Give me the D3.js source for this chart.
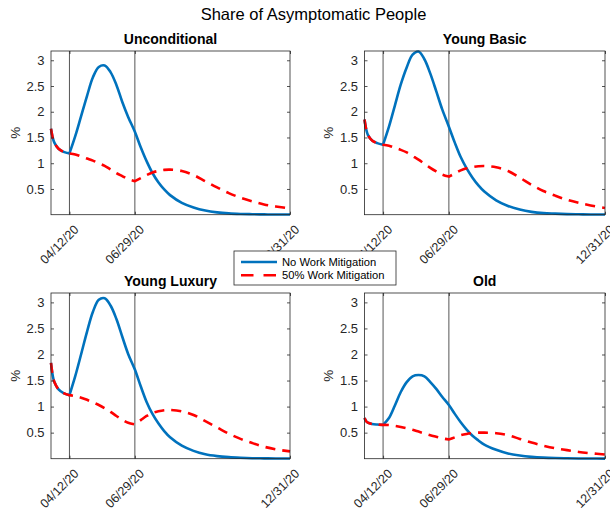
<!DOCTYPE html>
<html>
<head>
<meta charset="utf-8">
<script src="https://cdn.jsdelivr.net/npm/d3@7"></script>
<style>
  body { margin: 0; background: #fff; }
  svg { display: block; font-family: "Liberation Sans", Arial, Helvetica, sans-serif; }
</style>
</head>
<body>
<svg id="fig" width="610" height="512"></svg>
<script>
// Sample dates of the simulated paths (mm/dd/yy)
const sampleDates = ["03/21/20","03/23/20","03/25/20","03/30/20","04/05/20","04/12/20","04/19/20","04/26/20",
  "05/03/20","05/10/20","05/17/20","05/24/20","05/31/20","06/07/20","06/14/20","06/21/20","06/29/20",
  "07/06/20","07/13/20","07/20/20","07/27/20","08/03/20","08/10/20","08/24/20","09/07/20","09/21/20",
  "10/05/20","10/19/20","11/02/20","11/16/20","11/30/20","12/14/20","12/31/20"];

const panelTitles = ["Unconditional", "Young Basic", "Young Luxury", "Old"];
const seriesNames = ["No Work Mitigation", "50% Work Mitigation"];

// Share of asymptomatic people (%) - no work mitigation
const uncondNoMit = [1.67,1.50,1.40,1.28,1.22,1.19,1.53,1.92,2.31,2.67,2.87,2.90,2.77,2.52,2.19,1.90,1.61,
  1.31,1.04,0.81,0.63,0.49,0.38,0.23,0.14,0.08,0.045,0.025,0.015,0.01,0.006,0.004,0.003];
const youngBasicNoMit = [1.85,1.66,1.55,1.44,1.39,1.36,1.71,2.12,2.53,2.86,3.11,3.17,3.02,2.74,2.40,2.05,1.71,
  1.40,1.12,0.90,0.72,0.57,0.45,0.28,0.17,0.10,0.055,0.03,0.02,0.012,0.008,0.005,0.003];
const youngLuxuryNoMit = [1.84,1.60,1.47,1.33,1.26,1.22,1.59,2.01,2.44,2.82,3.05,3.08,2.94,2.68,2.34,2.01,1.71,
  1.39,1.09,0.86,0.68,0.53,0.41,0.25,0.15,0.085,0.05,0.03,0.018,0.01,0.007,0.004,0.003];
const oldNoMit = [0.78,0.72,0.69,0.665,0.655,0.65,0.78,1.02,1.28,1.47,1.58,1.605,1.58,1.47,1.34,1.19,1.03,
  0.86,0.70,0.56,0.44,0.35,0.27,0.17,0.10,0.06,0.035,0.02,0.012,0.008,0.005,0.003,0.002];

// Share of asymptomatic people (%) - 50% work mitigation
const uncondHalf = [1.67,1.50,1.40,1.28,1.22,1.19,1.17,1.13,1.09,1.05,1.00,0.95,0.88,0.81,0.75,0.69,0.65,
  0.71,0.77,0.82,0.85,0.87,0.875,0.85,0.77,0.65,0.53,0.42,0.33,0.26,0.20,0.16,0.12];
const youngBasicHalf = [1.85,1.66,1.55,1.44,1.39,1.36,1.34,1.30,1.26,1.21,1.14,1.07,0.99,0.91,0.84,0.78,0.74,
  0.80,0.86,0.90,0.925,0.94,0.945,0.92,0.85,0.72,0.58,0.46,0.37,0.29,0.23,0.18,0.13];
const youngLuxuryHalf = [1.84,1.60,1.47,1.33,1.26,1.22,1.20,1.17,1.13,1.08,1.03,0.97,0.90,0.82,0.75,0.69,0.66,
  0.74,0.82,0.88,0.91,0.93,0.935,0.91,0.84,0.72,0.60,0.48,0.38,0.30,0.23,0.18,0.14];
const oldHalf = [0.78,0.72,0.69,0.665,0.655,0.65,0.645,0.63,0.61,0.585,0.555,0.52,0.485,0.45,0.42,0.39,0.37,
  0.41,0.45,0.475,0.49,0.50,0.50,0.49,0.45,0.38,0.31,0.25,0.20,0.165,0.13,0.105,0.08];

// Axis ticks and policy dates
const xTickLabels = ["04/12/20", "06/29/20", "12/31/20"];
const policyDates = ["04/12/20", "06/29/20"];
const yTicks = [0.5, 1, 1.5, 2, 2.5, 3];
const yMax = 3.18;

const parse = d3.timeParse("%m/%d/%y");
const dates = sampleDates.map(parse);
const policy = policyDates.map(parse);

const panels = [
  { title: panelTitles[0], noMit: uncondNoMit, half: uncondHalf },
  { title: panelTitles[1], noMit: youngBasicNoMit, half: youngBasicHalf },
  { title: panelTitles[2], noMit: youngLuxuryNoMit, half: youngLuxuryHalf },
  { title: panelTitles[3], noMit: oldNoMit, half: oldHalf }
];

// Plot-area boxes for the 2x2 grid
const boxes = [
  { x0: 51, x1: 290, y0: 51, y1: 214.7 },
  { x0: 364.5, x1: 605, y0: 51, y1: 214.7 },
  { x0: 51, x1: 290, y0: 293, y1: 458.7 },
  { x0: 364.5, x1: 605, y0: 293, y1: 458.7 }
];

const blue = "#0072BD", red = "#FF0000", axisCol = "#262626";
const svg = d3.select("#fig");

// One continuous path through the samples, with corners allowed at the break dates
function joinedPath(values, x, y, breakDates) {
  const pts = dates.map((d, i) => [d, values[i]]);
  const cuts = [0];
  breakDates.forEach(b => {
    const i = dates.findIndex(d => +d === +b);
    if (i > 0) cuts.push(i);
  });
  cuts.push(pts.length - 1);
  const line = d3.line().x(p => x(p[0])).y(p => y(p[1])).curve(d3.curveCatmullRom.alpha(0.5));
  let s = "";
  for (let k = 0; k < cuts.length - 1; k++) {
    let seg = line(pts.slice(cuts[k], cuts[k + 1] + 1));
    if (k > 0) seg = seg.replace(/^M[^CL]*/, "");
    s += seg;
  }
  return s;
}

panels.forEach((p, idx) => {
  const b = boxes[idx];
  const x = d3.scaleTime().domain([dates[0], dates[dates.length - 1]]).range([b.x0, b.x1]);
  const y = d3.scaleLinear().domain([0, yMax]).range([b.y1, b.y0]);
  const g = svg.append("g");

  // Policy start/end markers
  g.selectAll("line.policy").data(policy).join("line")
    .attr("class", "policy")
    .attr("x1", d => x(d)).attr("x2", d => x(d))
    .attr("y1", b.y0).attr("y2", b.y1)
    .attr("stroke", "#555").attr("stroke-width", 1);

  // Curves
  g.append("path")
    .attr("d", joinedPath(p.noMit, x, y, [policy[0]]))
    .attr("fill", "none").attr("stroke", blue).attr("stroke-width", 2.6)
    .attr("stroke-linejoin", "round");
  g.append("path")
    .attr("d", joinedPath(p.half, x, y, policy))
    .attr("fill", "none").attr("stroke", red).attr("stroke-width", 2.6)
    .attr("stroke-dasharray", "10,7");

  // Frame
  g.append("rect")
    .attr("x", b.x0).attr("y", b.y0)
    .attr("width", b.x1 - b.x0).attr("height", b.y1 - b.y0)
    .attr("fill", "none").attr("stroke", axisCol).attr("stroke-width", 0.8);

  // Y axes (left labelled, right ticks only)
  const yl = g.append("g").attr("transform", `translate(${b.x0},0)`)
    .call(d3.axisLeft(y).tickValues(yTicks).tickSize(-3).tickPadding(6.5).tickFormat(d3.format("~g")));
  const yr = g.append("g").attr("transform", `translate(${b.x1},0)`)
    .call(d3.axisRight(y).tickValues(yTicks).tickSize(-3).tickFormat(""));

  // X axes (bottom labelled, top ticks only)
  const xTicks = xTickLabels.map(parse);
  const xb = g.append("g").attr("transform", `translate(0,${b.y1})`)
    .call(d3.axisBottom(x).tickValues(xTicks).tickSize(-3).tickFormat((d, i) => xTickLabels[i]));
  const xt = g.append("g").attr("transform", `translate(0,${b.y0})`)
    .call(d3.axisTop(x).tickValues(xTicks).tickSize(-3).tickFormat(""));

  [yl, yr, xb, xt].forEach(a => {
    a.select(".domain").remove();
    a.selectAll(".tick line").attr("stroke", axisCol).attr("stroke-width", 0.8);
    a.attr("font-family", null).attr("font-size", null);
    a.selectAll("text").attr("fill", axisCol).style("font-size", "13px");
  });
  xb.selectAll("text")
    .style("font-size", "12.5px")
    .attr("x", 0).attr("y", 0).attr("dy", "0.35em")
    .attr("text-anchor", "end")
    .attr("transform", "translate(6.5,12.5) rotate(-45)");

  // Y label
  g.append("text")
    .attr("transform", `translate(${b.x0 - 36},${(b.y0 + b.y1) / 2}) rotate(-90)`)
    .attr("text-anchor", "middle").attr("dy", "0.35em")
    .attr("fill", axisCol).style("font-size", "13.5px")
    .text("%");

  // Panel title
  g.append("text")
    .attr("x", (b.x0 + b.x1) / 2).attr("y", b.y0 - 7)
    .attr("text-anchor", "middle")
    .attr("font-weight", "bold").style("font-size", "14px")
    .attr("fill", "#000")
    .text(p.title);
});

// Figure title
svg.append("text")
  .attr("x", 313.5).attr("y", 20)
  .attr("text-anchor", "middle")
  .style("font-size", "16.5px").attr("fill", "#000")
  .text("Share of Asymptomatic People");

// Legend
const leg = svg.append("g").attr("transform", "translate(234,251)");
leg.append("rect").attr("width", 162).attr("height", 34)
  .attr("fill", "#fff").attr("stroke", axisCol).attr("stroke-width", 0.8);
const legendStyles = [
  { color: blue, dash: null },
  { color: red, dash: "12.5,10" }
];
seriesNames.forEach((name, i) => {
  const yy = 11 + i * 13.3;
  leg.append("line")
    .attr("x1", 7).attr("x2", 43).attr("y1", yy).attr("y2", yy)
    .attr("stroke", legendStyles[i].color).attr("stroke-width", 2.6)
    .attr("stroke-dasharray", legendStyles[i].dash);
  leg.append("text")
    .attr("x", 48).attr("y", yy).attr("dy", "0.35em")
    .style("font-size", "11.2px").attr("fill", "#000")
    .text(name);
});
</script>
</body>
</html>
